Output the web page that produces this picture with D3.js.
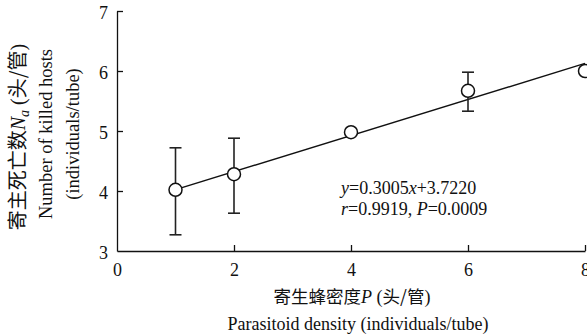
<!DOCTYPE html>
<html>
<head>
<meta charset="utf-8">
<script src="https://cdn.jsdelivr.net/npm/d3@7"></script>
<style>
  html, body { margin: 0; padding: 0; background: #fff; }
  svg { display: block; }
  text { font-family: "Liberation Serif", "Times New Roman", serif; fill: #111; }
  .cjk { font-family: "Noto Sans CJK SC", sans-serif; }
</style>
</head>
<body>
<script>
// Parasitoid density vs. number of killed hosts
const densities = [1, 2, 4, 6, 8];
const killedMean = [4.02, 4.28, 4.98, 5.67, 6.00];
const killedLow = [3.27, 3.63, 4.98, 5.33, 6.00];
const killedHigh = [4.72, 4.88, 4.98, 5.98, 6.00];
const xTicks = [0, 2, 4, 6, 8];
const yTicks = [3, 4, 5, 6, 7];
const slope = 0.3005, intercept = 3.7220;

const W = 587, H = 335;
const svg = d3.select("body").append("svg").attr("width", W).attr("height", H);

const x = d3.scaleLinear().domain([0, 8]).range([117, 585]);
const y = d3.scaleLinear().domain([3, 7]).range([251, 11]);

// Axes: ticks point inward
const xAxis = svg.append("g").attr("transform", `translate(0,${y(3)})`)
  .call(d3.axisBottom(x).tickValues(xTicks).tickFormat(d3.format("d"))
    .tickSizeInner(-6).tickSizeOuter(0).tickPadding(12));
const yAxis = svg.append("g").attr("transform", `translate(${x(0)},0)`)
  .call(d3.axisLeft(y).tickValues(yTicks).tickFormat(d3.format("d"))
    .tickSizeInner(-6).tickSizeOuter(0).tickPadding(9));
[xAxis, yAxis].forEach(g => {
  g.attr("font-family", null).attr("font-size", null);
  g.selectAll("path, line").attr("stroke", "#111").attr("stroke-width", 1.3);
  g.selectAll("text").attr("font-size", 18).attr("fill", "#111");
});
yAxis.selectAll("text").attr("dy", "0.42em");
xAxis.selectAll(".tick").filter(d => d === 0).select("line").remove();
yAxis.selectAll(".tick").filter(d => d === 3).select("line").remove();

// Regression line
svg.append("line")
  .attr("x1", x(1)).attr("y1", y(slope * 1 + intercept))
  .attr("x2", x(8)).attr("y2", y(slope * 8 + intercept))
  .attr("stroke", "#111").attr("stroke-width", 1.4);

// Error bars
const data = densities.map((d, i) => ({ d, m: killedMean[i], lo: killedLow[i], hi: killedHigh[i] }));
const eb = svg.append("g").attr("stroke", "#222").attr("stroke-width", 1.6);
data.filter(p => p.hi > p.lo).forEach(p => {
  eb.append("line").attr("x1", x(p.d)).attr("x2", x(p.d)).attr("y1", y(p.lo)).attr("y2", y(p.hi));
  [p.lo, p.hi].forEach(v => eb.append("line")
    .attr("x1", x(p.d) - 6).attr("x2", x(p.d) + 6).attr("y1", y(v)).attr("y2", y(v)));
});

// Points
svg.append("g").selectAll("circle").data(data).join("circle")
  .attr("cx", p => x(p.d)).attr("cy", p => y(p.m)).attr("r", 6.5)
  .attr("fill", "#fff").attr("stroke", "#111").attr("stroke-width", 1.5);

// Equation
const eq = svg.append("g").attr("font-size", 18);
const t1 = eq.append("text").attr("x", 341).attr("y", 194);
t1.append("tspan").attr("font-style", "italic").text("y");
t1.append("tspan").text("=0.3005");
t1.append("tspan").attr("font-style", "italic").text("x");
t1.append("tspan").text("+3.7220");
const t2 = eq.append("text").attr("x", 341).attr("y", 215);
t2.append("tspan").attr("font-style", "italic").text("r");
t2.append("tspan").text("=0.9919, ");
t2.append("tspan").attr("font-style", "italic").text("P");
t2.append("tspan").text("=0.0009");

// X title
const xt = svg.append("text").attr("x", 352).attr("y", 303).attr("text-anchor", "middle").attr("font-size", 18);
xt.append("tspan").attr("class", "cjk").attr("font-size", 17.5).text("寄生蜂密度");
xt.append("tspan").attr("font-style", "italic").text("P");
xt.append("tspan").text(" (");
xt.append("tspan").attr("class", "cjk").attr("font-size", 17.5).text("头/管");
xt.append("tspan").text(")");
svg.append("text").attr("x", 358).attr("y", 330).attr("text-anchor", "middle").attr("font-size", 18)
  .text("Parasitoid density (individuals/tube)");

// Y title (rotated)
const cy = 137;
const yt = svg.append("text").attr("transform", `translate(25,${cy}) rotate(-90)`)
  .attr("text-anchor", "middle").attr("font-size", 20);
yt.append("tspan").attr("class", "cjk").attr("font-size", 20).text("寄主死亡数");
yt.append("tspan").attr("font-style", "italic").text("N");
yt.append("tspan").attr("font-style", "italic").attr("font-size", 14).attr("dy", 4).text("a");
yt.append("tspan").attr("dy", -4).text(" (");
yt.append("tspan").attr("class", "cjk").attr("font-size", 20).text("头/管");
yt.append("tspan").text(")");
svg.append("text").attr("transform", `translate(52,${cy - 3}) rotate(-90)`)
  .attr("text-anchor", "middle").attr("font-size", 18.5).text("Number of killed hosts");
svg.append("text").attr("transform", `translate(79,${cy - 3}) rotate(-90)`)
  .attr("text-anchor", "middle").attr("font-size", 18.5).text("(individuals/tube)");
</script>
</body>
</html>
